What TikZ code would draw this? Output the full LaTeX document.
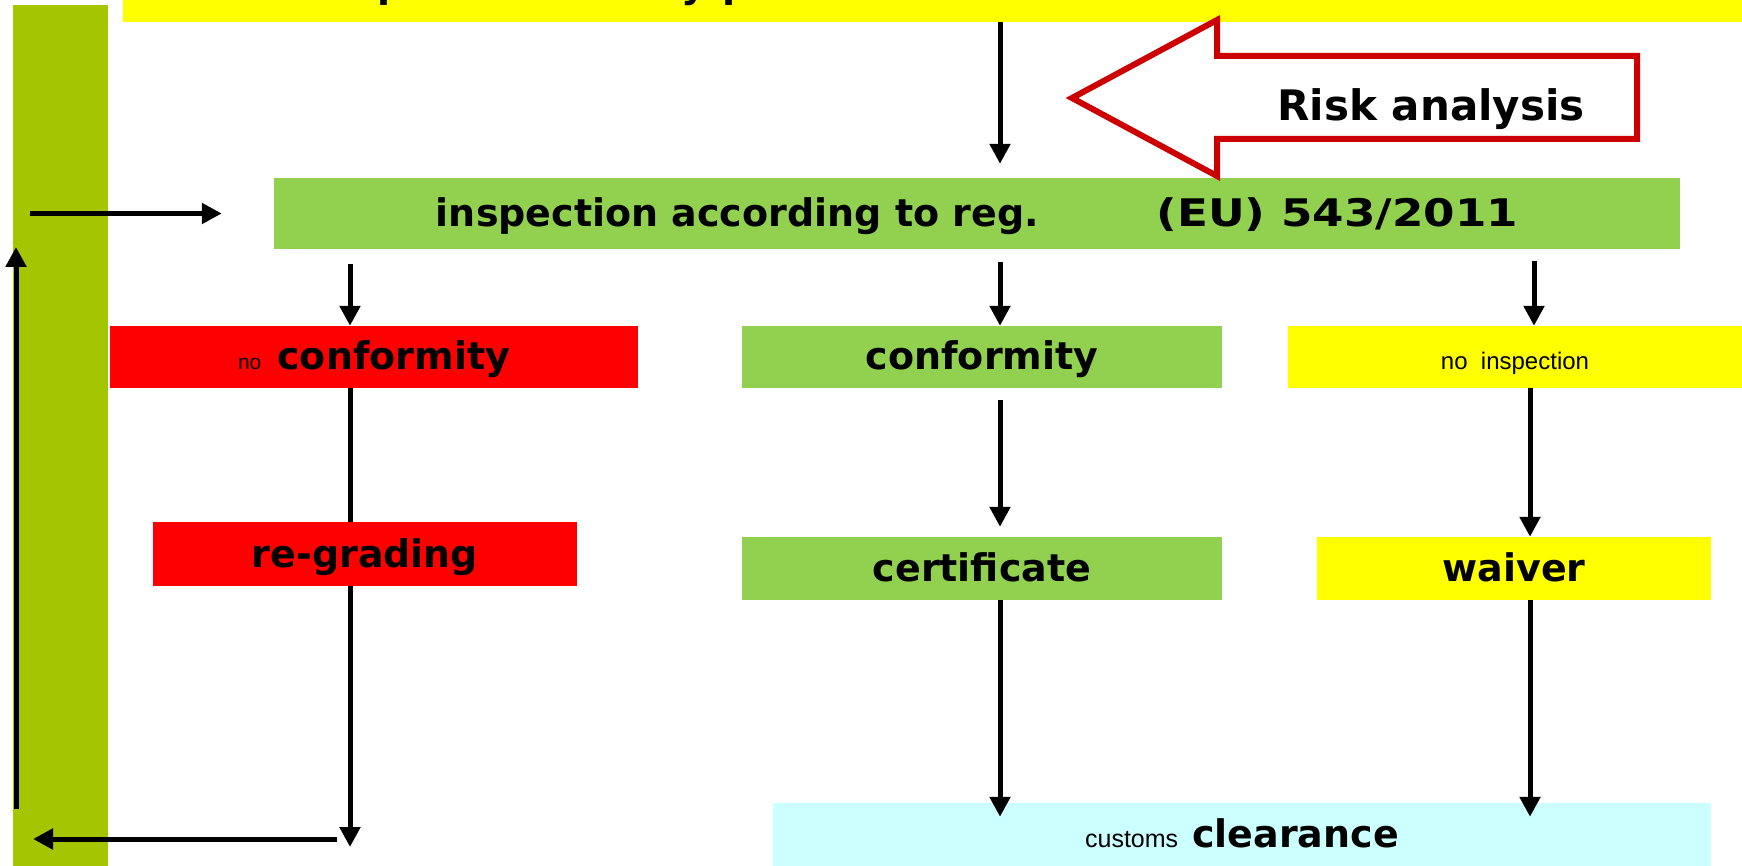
\documentclass[tikz,border=0pt]{standalone}
\usepackage{fontspec}
\setmainfont{DejaVu Sans}
\newfontfamily\arialf{Liberation Sans}
\usetikzlibrary{arrows.meta}
\definecolor{barolive}{HTML}{A3C600}
\definecolor{boxgreen}{HTML}{92D050}
\definecolor{boxyellow}{HTML}{FFFF00}
\definecolor{boxred}{HTML}{FF0000}
\definecolor{boxcyan}{HTML}{CCFFFF}
\definecolor{riskred}{HTML}{CC0000}
\begin{document}
\begin{tikzpicture}[x=1pt,y=-1pt,
  box/.style={rectangle, inner sep=0pt, draw=none, text height=36pt, text depth=10pt,
    font=\bfseries\fontsize{38}{40}\selectfont},
  plain/.style={rectangle, inner sep=0pt, draw=none},
  frag/.style={inner sep=0pt, anchor=base, font=\bfseries\fontsize{38}{40}\selectfont},
  arr/.style={line width=5pt, -{Triangle[length=20pt,width=20pt]}},
  ln/.style={line width=5pt}
]
\useasboundingbox (0,0) rectangle (1742,866);
\clip (0,0) rectangle (1742,866);
% top bar (its text is cut off by the page edge)
\node[plain, fill=boxyellow, minimum width=1619pt, minimum height=40pt] (topbar) at (932.5,2) {};
\node[frag] (f1) at (391,-2) {p};
\node[frag] (f2) at (694,-2) {y};
\node[frag] (f3) at (736,-2) {p};
% left bar
\node[plain, fill=barolive, minimum width=95pt, minimum height=861pt] (olivebar) at (60.5,435.5) {};
% boxes
\node[box, fill=boxgreen, minimum width=1406pt, minimum height=71pt] (insp) at (977,213.5)
  {inspection according to reg.\hspace{118pt}\scalebox{1.19}[1]{(EU) 543/2011}};
\node[box, fill=boxred, minimum width=528pt, minimum height=62pt] (noconf) at (374,357)
  {{\arialf\mdseries\fontsize{21}{22}\selectfont no}\hspace{16pt}conformity};
\node[box, fill=boxgreen, minimum width=480pt, minimum height=62pt] (conf) at (982,357) {conformity};
\node[box, fill=boxyellow, minimum width=454pt, minimum height=62pt] (noinsp) at (1515,357)
  {\arialf\mdseries\fontsize{24}{26}\selectfont no\ \ inspection};
\node[box, fill=boxred, minimum width=424pt, minimum height=64pt] (regrad) at (365,554) {re-grading};
\node[box, fill=boxgreen, minimum width=480pt, minimum height=63pt] (cert) at (982,568.5) {certificate};
\node[box, fill=boxyellow, minimum width=394pt, minimum height=63pt] (waiver) at (1514,568.5) {waiver};
\node[box, fill=boxcyan, minimum width=938pt, minimum height=63pt] (clear) at (1242,834.5)
  {{\arialf\mdseries\fontsize{25}{26}\selectfont customs}\hspace{14pt}clearance};
% risk analysis arrow
\draw[draw=riskred, line width=6pt, fill=white, line join=miter]
  (1072,98) -- (1217,20) -- (1217,56) -- (1637,56) -- (1637,139) -- (1217,139) -- (1217,176) -- cycle;
\node[font=\bfseries\fontsize{42}{44}\selectfont, inner sep=0pt] (risk) at (1431,109.5) {Risk analysis};
% helper coordinates
\coordinate (cA) at (350,0);
\coordinate (cB) at (1000,0);
\coordinate (cC) at (1534,0);
\coordinate (cD) at (1530,0);
\coordinate (la) at (30,213.5);
\coordinate (bl) at (350,847);
\coordinate (hs) at (337,839);
\coordinate (he) at (33,839);
\coordinate (us) at (16,809);
\coordinate (ue) at (16,247);
% connectors
\draw[arr, shorten >=14pt] (topbar.south -| cB) -- (insp.north -| cB);
\draw[arr, shorten >=52pt] (la) -- (insp.west);
\draw[arr, shorten <=15pt] (insp.south -| cA) -- (noconf.north -| cA);
\draw[arr, shorten <=13pt] (insp.south -| cB) -- (conf.north -| cB);
\draw[arr, shorten <=12pt] (insp.south -| cC) -- (noinsp.north -| cC);
\draw[ln] (noconf.south -| cA) -- (regrad.north -| cA);
\draw[arr] (regrad.south -| cA) -- (bl);
\draw[arr] (hs) -- (he);
\draw[arr] (us) -- (ue);
\draw[arr, shorten <=12pt, shorten >=10pt] (conf.south -| cB) -- (cert.north -| cB);
\draw[arr] (noinsp.south -| cD) -- (waiver.north -| cD);
\draw[arr, shorten >=-14pt] (cert.south -| cB) -- (clear.north -| cB);
\draw[arr, shorten >=-14pt] (waiver.south -| cD) -- (clear.north -| cD);
\end{tikzpicture}
\end{document}
